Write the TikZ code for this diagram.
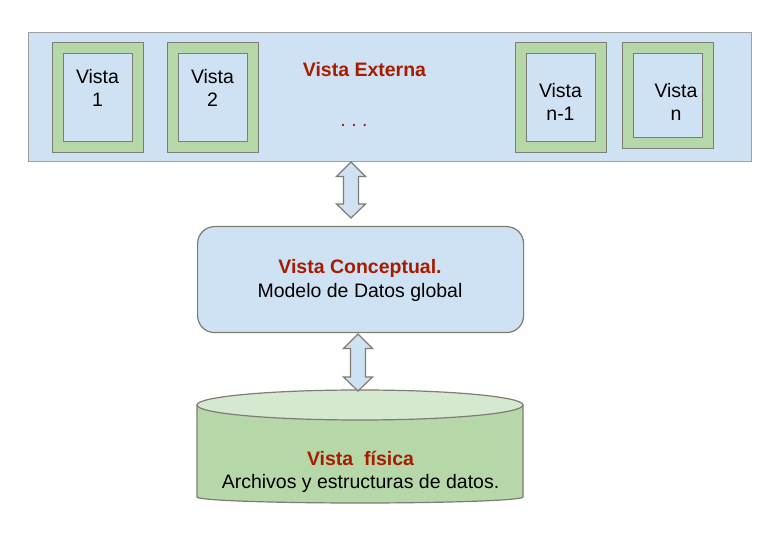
\documentclass[tikz,border=0pt]{standalone}
\usepackage{fontspec}
\setmainfont{Liberation Sans}
\definecolor{lblue}{HTML}{CFE2F3}
\definecolor{vgreen}{HTML}{B6D7A8}
\definecolor{lgreen}{HTML}{D5E8D0}
\definecolor{dred}{HTML}{A61C00}
\definecolor{bgray}{HTML}{7F7B75}
\definecolor{ogray}{HTML}{A0A0A0}
\newcommand{\dblarrow}[3]{% cx, top, bottom
  \draw[arrowbox] (#1,#2) -- ({#1+14.5},{#2+14.5}) -- ({#1+7.5},{#2+14.5}) -- ({#1+7.5},{#3-14}) -- ({#1+14.5},{#3-14}) -- (#1,#3) -- ({#1-14.5},{#3-14}) -- ({#1-7.5},{#3-14}) -- ({#1-7.5},{#2+14.5}) -- ({#1-14.5},{#2+14.5}) -- cycle;}
\begin{document}
\begin{tikzpicture}[x=1pt,y=-1pt,
  every node/.style={font=\fontsize{19.5pt}{23.5pt}\selectfont, inner sep=0pt},
  outerbox/.style={draw=ogray, fill=lblue, line width=1.2pt, anchor=north west},
  greenframe/.style={draw=bgray, fill=vgreen, line width=1.2pt, anchor=north west, minimum width=91pt},
  innerbox/.style={draw=bgray, fill=lblue, line width=1.2pt, anchor=north west, minimum width=69pt},
  concbox/.style={draw=bgray, fill=lblue, line width=1.2pt, rounded corners=17pt, anchor=north west, minimum width=326pt, minimum height=106pt},
  arrowbox/.style={draw=bgray, fill=lblue, line width=1.2pt, line join=miter},
  cyl/.style={draw=bgray, line width=1.2pt},
  title/.style={text=dred, font=\fontsize{19.5pt}{23.5pt}\selectfont\bfseries},
  lbl/.style={align=center}]
\useasboundingbox (0,0) rectangle (780,534);

% external view
\node[outerbox, minimum width=723pt, minimum height=129pt] (ext) at (28,32) {};
\node[greenframe, minimum height=110pt] (v1o) at (52,42) {};
\node[innerbox, minimum height=88pt] (v1i) at (63,53) {};
\node[greenframe, minimum height=110pt] (v2o) at (167,42) {};
\node[innerbox, minimum height=88pt] (v2i) at (178,53) {};
\node[greenframe, minimum height=110pt] (vn1o) at (515,42) {};
\node[innerbox, minimum height=88pt] (vn1i) at (526,53) {};
\node[greenframe, minimum height=106pt] (vno) at (622,42) {};
\node[innerbox, minimum height=84pt] (vni) at (633,53) {};
\node[lbl] (t1) at (97.5,87.8) {Vista\\1};
\node[lbl] (t2) at (212.5,87.8) {Vista\\2};
\node[lbl] (tn1) at (560.5,102) {Vista\\n-1};
\node[lbl] (tn) at (676,102) {Vista\\n};
\node[title] (textt) at (364.5,70) {Vista Externa};
\node[text=dred, anchor=base] (dots) at (354,126.5) {.\ .\ .};

% conceptual view
\node[concbox] (conc) at (197,226) {};
\node[lbl] (tconc) at (360,280.5) {\textcolor{dred}{\bfseries Vista Conceptual.}\\Modelo de Datos global};

% physical view (cylinder)
\fill[vgreen] (197,405) -- (197,497) arc[start angle=180, end angle=0, x radius=163, y radius=6] -- (523,405) -- cycle;
\draw[cyl] (197,405) -- (197,497) arc[start angle=180, end angle=0, x radius=163, y radius=6] -- (523,405);
\draw[cyl, fill=lgreen] (360,405) ellipse[x radius=163, y radius=15];
\node[lbl] (tfis) at (360.5,471.8) {\textcolor{dred}{\bfseries Vista\ \ física}\\Archivos y estructuras de datos.};

% block arrows
\dblarrow{351}{162}{218}
\dblarrow{358}{334}{391}
\end{tikzpicture}
\end{document}
